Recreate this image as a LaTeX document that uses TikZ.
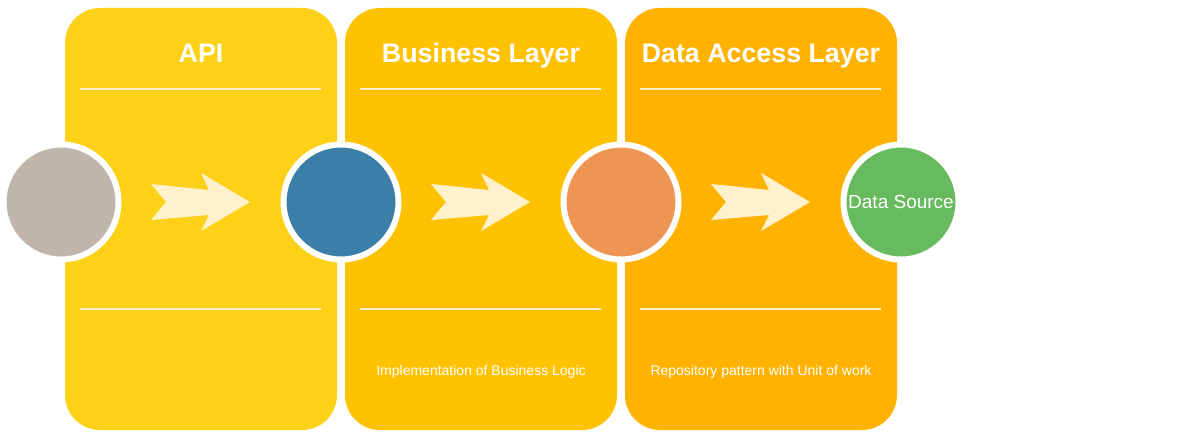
\documentclass[tikz,border=0pt]{standalone}
\usepackage{fontspec}
\setmainfont{Liberation Sans}
\definecolor{apiyellow}{RGB}{253,209,24}
\definecolor{bizyellow}{RGB}{255,194,0}
\definecolor{dalorange}{RGB}{255,179,0}
\definecolor{clientgray}{RGB}{191,181,171}
\definecolor{bizblue}{RGB}{59,126,168}
\definecolor{dalpeach}{RGB}{238,149,83}
\definecolor{srcgreen}{RGB}{104,186,94}
\definecolor{arrowcream}{RGB}{255,241,204}
\definecolor{rulecream}{RGB}{255,238,200}
\tikzset{
  panel/.style={rounded corners=35pt,minimum width=272pt,minimum height=422pt,inner sep=0pt},
  title/.style={text=white,anchor=base,font=\fontsize{26.8}{30}\selectfont\bfseries},
  note/.style={text=white,anchor=base,font=\fontsize{14}{16}\selectfont},
  layer/.style={circle,draw=white,line width=6pt,minimum size=115pt,inner sep=0pt},
  rule/.style={rulecream,line width=2pt},
  flowarrow/.pic={
    \fill[arrowcream] (90,-18) -- (148,-12) -- (140,-29) -- (189,0)
      -- (140,29) -- (148,13) -- (90,18) -- (105,0) -- cycle;
  }
}
\begin{document}
\begin{tikzpicture}[x=1pt,y=-1pt]
\useasboundingbox (0,0) rectangle (1181,438);
% layers
\node[panel,fill=apiyellow] (api) at (201,219) {};
\node[panel,fill=bizyellow] (biz) at (481,219) {};
\node[panel,fill=dalorange] (dal) at (761,219) {};
\node[title] (apititle) at (201,63) {API};
\node[title] (biztitle) at (481,63) {Business Layer};
\node[title] (daltitle) at (761,63) {Data Access Layer};
\draw[rule] (80,89) -- (321,89);
\draw[rule] (360,89) -- (601,89);
\draw[rule] (640,89) -- (881,89);
\draw[rule] (80,309) -- (321,309);
\draw[rule] (360,309) -- (601,309);
\draw[rule] (640,309) -- (881,309);
\node[note] (biznote) at (481,375) {Implementation of Business Logic};
\node[note] (dalnote) at (761,375) {Repository pattern with Unit of work};
% stages
\node[layer,fill=clientgray] (client) at (61,202) {};
\node[layer,fill=bizblue] (logic) at (341,202) {};
\node[layer,fill=dalpeach] (repo) at (621,202) {};
\node[layer,fill=srcgreen,text=white,font=\fontsize{19}{21}\selectfont] (source) at (901,202) {Data Source};
\pic at (client) {flowarrow};
\pic at (logic) {flowarrow};
\pic at (repo) {flowarrow};
\end{tikzpicture}
\end{document}
